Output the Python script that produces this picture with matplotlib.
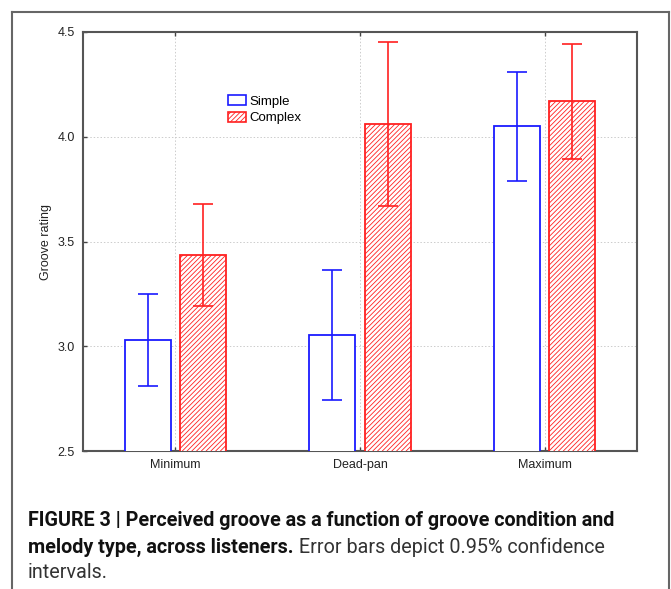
"""
Groove rating by condition and melody type (bar chart with CI error bars)
"""
import matplotlib
matplotlib.use("Agg")
import matplotlib.pyplot as plt
from matplotlib.patches import Patch
from matplotlib.lines import Line2D
import numpy as np

# Dados
conditions = ["Minimum", "Dead-pan", "Maximum"]
simple_mean = [3.03, 3.055, 4.05]
simple_ci = [0.22, 0.31, 0.26]
complex_mean = [3.435, 4.06, 4.17]
complex_ci = [0.245, 0.39, 0.275]
y_ticks = [2.5, 3.0, 3.5, 4.0, 4.5]

BLUE = "#1a1aff"
RED = "#ff2020"
HATCH = "///////"
W, H = 671, 589

plt.rcParams["font.family"] = ["Liberation Sans", "DejaVu Sans"]
plt.rcParams["hatch.linewidth"] = 0.6

fig = plt.figure(figsize=(W / 100, H / 100), dpi=100)
ax = fig.add_axes([83 / W, 1 - 451 / H, 554 / W, 419 / H])

x = np.arange(len(conditions))
width = 0.25
off = 0.15

ax.bar(x - off, simple_mean, width, facecolor="white",
       edgecolor=BLUE, linewidth=1.3, zorder=3)
ax.bar(x + off, complex_mean, width, facecolor="white", edgecolor=RED,
       hatch=HATCH, linewidth=1.3, zorder=3)
ax.errorbar(x - off, simple_mean, yerr=simple_ci, fmt="none", ecolor=BLUE,
            elinewidth=1.2, capsize=7.5, capthick=1.2, zorder=4)
ax.errorbar(x + off, complex_mean, yerr=complex_ci, fmt="none", ecolor=RED,
            elinewidth=1.2, capsize=7.5, capthick=1.2, zorder=4)

ax.set_xlim(-0.5, 2.5)
ax.set_ylim(2.5, 4.5)
ax.set_xticks(x)
ax.set_xticklabels(conditions, fontsize=9, color="#222222")
ax.set_yticks(y_ticks)
ax.set_yticklabels([f"{v:.1f}" for v in y_ticks], fontsize=9, color="#222222")
ax.tick_params(axis="both", direction="in", length=3, width=1,
               color="#444444", top=True, right=False, pad=6)
ax.set_ylabel("Groove rating", fontsize=9, color="#222222", labelpad=4)

ax.grid(True, linestyle=(0, (1.5, 2)), color="#cccccc", linewidth=0.7, zorder=0)
for s in ax.spines.values():
    s.set_color("#555555")
    s.set_linewidth(1.5)

# Legenda
handles = [Patch(facecolor="white", edgecolor=BLUE, linewidth=1.2),
           Patch(facecolor="white", edgecolor=RED, hatch=HATCH, linewidth=1.2)]
ax.legend(handles, ["Simple", "Complex"], loc="upper left",
          bbox_to_anchor=(0.253, 0.862), frameon=False, fontsize=9.5,
          handlelength=1.3, handleheight=0.8, labelspacing=0.3,
          handletextpad=0.3, borderaxespad=0)

# Moldura da página
frame_kw = dict(color="#666666", linewidth=1.5, transform=fig.transFigure)
fig.add_artist(Line2D([12 / W, 12 / W], [0, 1 - 12 / H], **frame_kw))
fig.add_artist(Line2D([669 / W, 669 / W], [0, 1 - 12 / H], **frame_kw))
fig.add_artist(Line2D([12 / W, 669 / W], [1 - 12 / H, 1 - 12 / H], **frame_kw))

# Legenda da figura
cap_font = ["Roboto", "DejaVu Sans"]
line1 = "FIGURE 3 | Perceived groove as a function of groove condition and"
l2_bold = "melody type, across listeners."
l2_reg = " Error bars depict 0.95% confidence"
l3 = "intervals."

renderer = fig.canvas.get_renderer()
probe = fig.text(0, 0, line1, fontsize=12, fontweight="bold", family=cap_font)
w1 = probe.get_window_extent(renderer).width
probe.remove()
fs = 12 * 586 / w1

x0 = 28 / W
fig.text(x0, 1 - 520 / H, line1, fontsize=fs, fontweight="bold",
         family=cap_font, va="center", color="#111111")
t_b = fig.text(x0, 1 - 547 / H, l2_bold, fontsize=fs, fontweight="bold",
               family=cap_font, va="center", color="#111111")
wb = t_b.get_window_extent(renderer).width
fig.text(x0 + wb / W, 1 - 547 / H, l2_reg, fontsize=fs, fontweight="normal",
         family=cap_font, va="center", color="#333333")
fig.text(x0, 1 - 573 / H, l3, fontsize=fs, fontweight="normal",
         family=cap_font, va="center", color="#333333")

fig.savefig("out.png", dpi=100)
